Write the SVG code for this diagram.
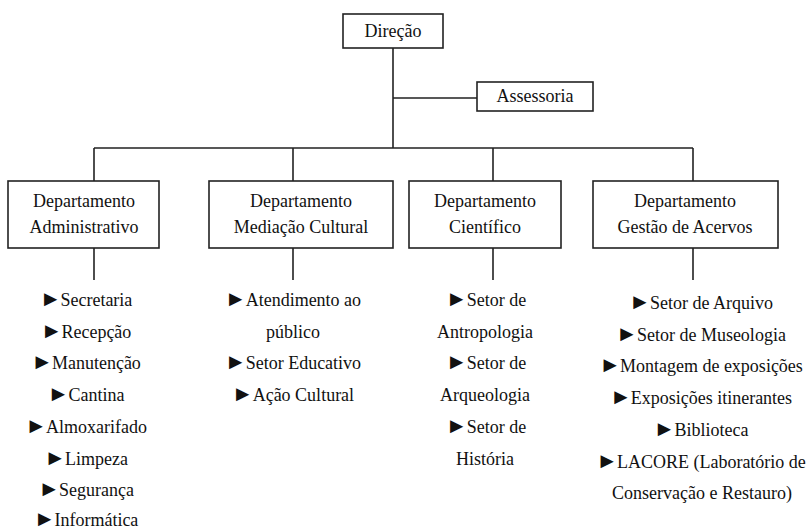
<svg xmlns="http://www.w3.org/2000/svg" width="809" height="530" viewBox="0 0 809 530">
<style>
.box{fill:#fff;stroke:#222;stroke-width:1.6}
.ln{fill:none;stroke:#222;stroke-width:1.6}
.b{font-size:22px}
</style>
<rect width="809" height="530" fill="#fff"/>
<g id="connectors">
<path class="ln" d="M393 48V148M393 98H477M94 148H693M94 148V181M293 148V181M493 148V181M693 148V181M94 248V280M293 248V280M493 248V280M693 248V280"/>
</g>
<g font-family="Liberation Serif, Times New Roman, serif" font-size="18" fill="#111" text-anchor="middle">
<g id="direcao"><rect class="box" x="343" y="14" width="100" height="34"/><text x="393" y="37">Direção</text></g>
<g id="assessoria"><rect class="box" x="477" y="82" width="116" height="29"/><text x="535" y="102">Assessoria</text></g>
<g id="dep-adm"><rect class="box" x="8" y="181" width="151" height="67"/><text x="84" y="207">Departamento</text><text x="84" y="233">Administrativo</text></g>
<g id="dep-med"><rect class="box" x="209" y="181" width="184" height="67"/><text x="301" y="207">Departamento</text><text x="301" y="233">Mediação Cultural</text></g>
<g id="dep-cie"><rect class="box" x="409" y="181" width="152" height="67"/><text x="485" y="207">Departamento</text><text x="485" y="233">Científico</text></g>
<g id="dep-ges"><rect class="box" x="593" y="181" width="185" height="67"/><text x="685" y="207">Departamento</text><text x="685" y="233">Gestão de Acervos</text></g>
<g id="list-adm">
<text x="86" y="306"><tspan class="b">►</tspan><tspan dx="-1">Secretaria</tspan></text>
<text x="86" y="338"><tspan class="b">►</tspan><tspan dx="-1">Recepção</tspan></text>
<text x="86" y="369"><tspan class="b">►</tspan><tspan dx="-1">Manutenção</tspan></text>
<text x="86" y="401"><tspan class="b">►</tspan><tspan dx="-1">Cantina</tspan></text>
<text x="86" y="433"><tspan class="b">►</tspan><tspan dx="-1">Almoxarifado</tspan></text>
<text x="86" y="465"><tspan class="b">►</tspan><tspan dx="-1">Limpeza</tspan></text>
<text x="86" y="496"><tspan class="b">►</tspan><tspan dx="-1">Segurança</tspan></text>
<text x="86" y="526"><tspan class="b">►</tspan><tspan dx="-1">Informática</tspan></text>
</g>
<g id="list-med">
<text x="293" y="306"><tspan class="b">►</tspan><tspan dx="-1">Atendimento ao</tspan></text>
<text x="293" y="338">público</text>
<text x="293" y="369"><tspan class="b">►</tspan><tspan dx="-1">Setor Educativo</tspan></text>
<text x="293" y="401"><tspan class="b">►</tspan><tspan dx="-1">Ação Cultural</tspan></text>
</g>
<g id="list-cie">
<text x="486" y="306"><tspan class="b">►</tspan><tspan dx="-1">Setor de</tspan></text>
<text x="485" y="338">Antropologia</text>
<text x="486" y="369"><tspan class="b">►</tspan><tspan dx="-1">Setor de</tspan></text>
<text x="485" y="401">Arqueologia</text>
<text x="486" y="433"><tspan class="b">►</tspan><tspan dx="-1">Setor de</tspan></text>
<text x="485" y="465">História</text>
</g>
<g id="list-ges">
<text x="701" y="309"><tspan class="b">►</tspan><tspan dx="-1">Setor de Arquivo</tspan></text>
<text x="701" y="341"><tspan class="b">►</tspan><tspan dx="-1">Setor de Museologia</tspan></text>
<text x="701" y="372"><tspan class="b">►</tspan><tspan dx="-1">Montagem de exposições</tspan></text>
<text x="701" y="404"><tspan class="b">►</tspan><tspan dx="-1">Exposições itinerantes</tspan></text>
<text x="701" y="436"><tspan class="b">►</tspan><tspan dx="-1">Biblioteca</tspan></text>
<text x="701" y="468"><tspan class="b">►</tspan><tspan dx="-1">LACORE (Laboratório de</tspan></text>
<text x="702" y="499">Conservação e Restauro)</text>
</g>
</g>
</svg>
